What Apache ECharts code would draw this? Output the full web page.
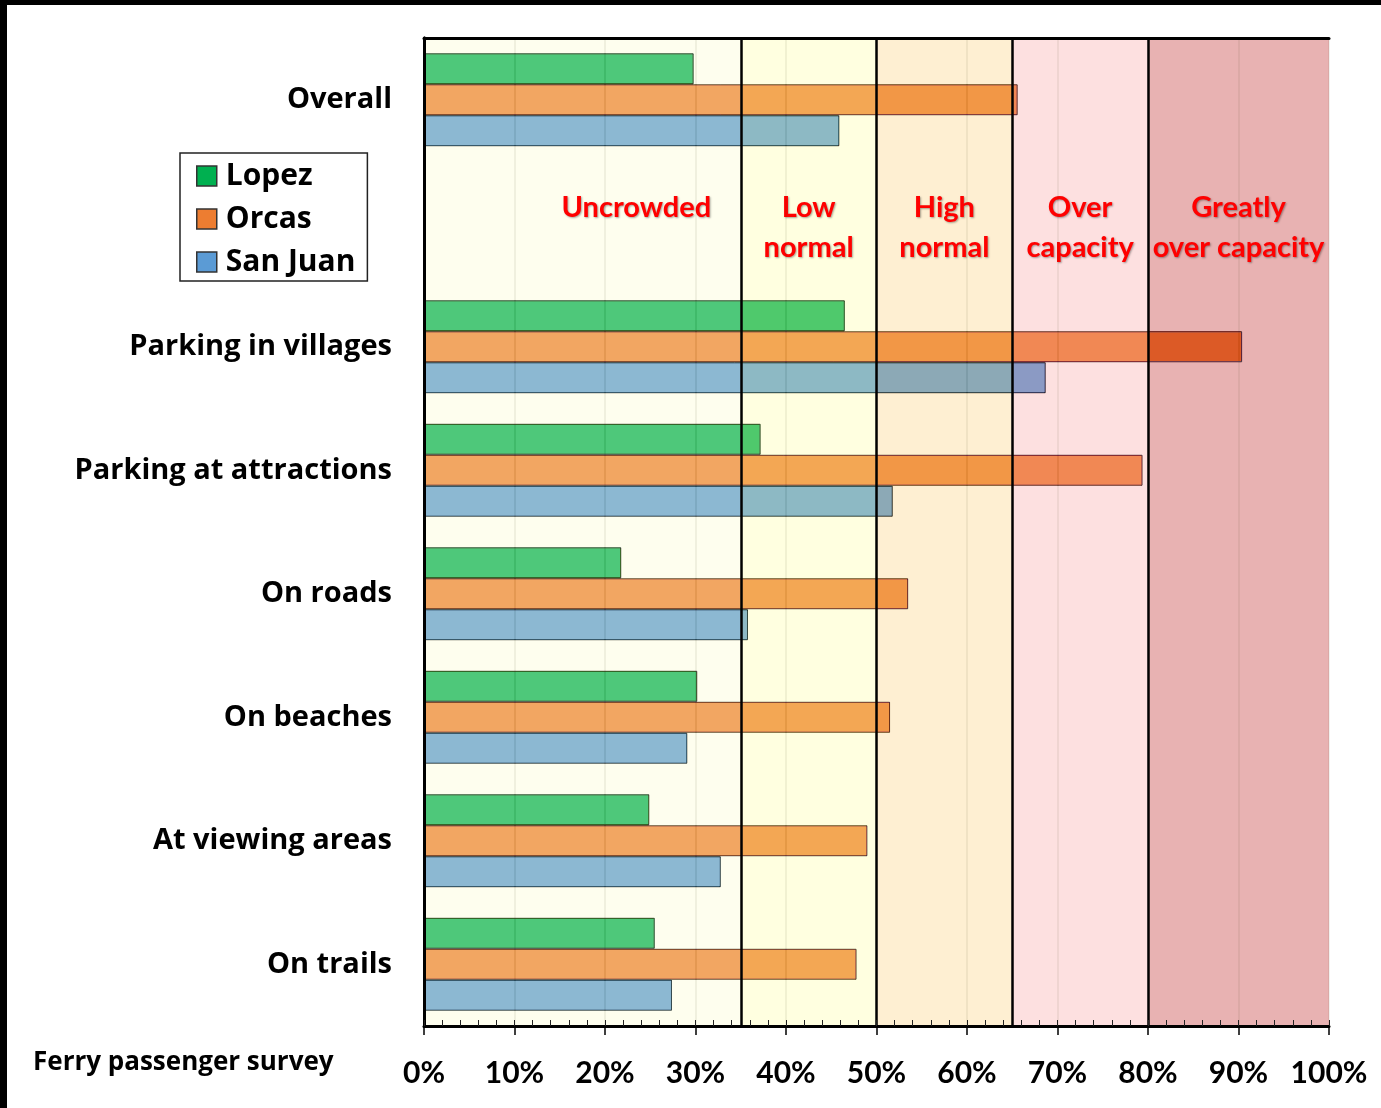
<!DOCTYPE html>
<html>
<head>
<meta charset="utf-8">
<script src="https://cdn.jsdelivr.net/npm/echarts@6/dist/echarts.min.js"></script>
<style>
  html, body { margin: 0; padding: 0; background: #000; width: 1381px; height: 1108px; overflow: hidden; }
  #chart { position: absolute; left: 7px; top: 5px; width: 1374px; height: 1103px; background: #fff; }
</style>
</head>
<body>
<div id="chart"></div>
<script>
// Survey categories, top to bottom (the blank row holds the band captions)
const categories = ['Overall', '', 'Parking in villages', 'Parking at attractions', 'On roads', 'On beaches', 'At viewing areas', 'On trails'];

// Share of respondents (%) per island
const lopez   = [29.8, '-', 46.5, 37.2, 21.8, 30.2, 24.9, 25.5];
const orcas   = [65.6, '-', 90.4, 79.4, 53.5, 51.5, 49.0, 47.8];
const sanJuan = [45.9, '-', 68.7, 51.8, 35.8, 29.1, 32.8, 27.4];

const seriesNames = ['Lopez', 'Orcas', 'San Juan'];
const swatchColors = ['#00b050', '#ed7d31', '#5b9bd5'];
// Bars are painted with a difference blend, so the band tint underneath shows through;
// these inks give the island colours on the pale band.
const blendInks = ['rgb(176,54,116)', 'rgb(12,88,140)', 'rgb(114,70,28)'];

// Crowding bands
const bandEdges = [0, 35, 50, 65, 80, 100];
const bandNames = ['Uncrowded', 'Low\nnormal', 'High\nnormal', 'Over\ncapacity', 'Greatly\nover capacity'];
const bandColors = ['#fefeee', '#ffffe0', '#feefd2', '#fde0e0', '#e8b2b2'];
const bandLabelShift = [54, 0, 0, 0, 0];

const FONT = '"Open Sans", Lato, sans-serif';
const NUM_FONT = 'Lato, "Open Sans", sans-serif';

const chart = echarts.init(document.getElementById('chart'), null, { renderer: 'canvas' });

const bandAreas = bandNames.map((name, i) => [
  {
    name: name,
    xAxis: bandEdges[i],
    itemStyle: { color: bandColors[i] },
    label: { offset: [bandLabelShift[i], 0] }
  },
  { xAxis: bandEdges[i + 1] }
]);

const seriesData = [lopez, orcas, sanJuan];

const series = seriesData.map((values, i) => ({
  name: seriesNames[i],
  type: 'bar',
  data: values,
  barWidth: 31,
  barGap: '0%',
  blendMode: 'difference',
  itemStyle: { color: blendInks[i], borderColor: 'rgb(150,150,148)', borderWidth: 1 },
  emphasis: { disabled: true },
  silent: true
}));

series[0].markArea = {
  silent: true,
  z: 1,
  label: {
    show: true,
    position: 'insideTop',
    distance: 150,
    color: '#ff0000',
    fontFamily: NUM_FONT,
    fontWeight: 'bold',
    fontSize: 29,
    lineHeight: 40,
    align: 'center',
    textShadowColor: 'rgba(0,0,0,0.35)',
    textShadowBlur: 2,
    textShadowOffsetX: 1,
    textShadowOffsetY: 1
  },
  data: bandAreas
};

series[1].markLine = {
  silent: true,
  symbol: 'none',
  z: 6,
  label: { show: false },
  lineStyle: { color: '#000', width: 2.5, type: 'solid' },
  data: bandEdges.slice(1, -1).map(v => ({ xAxis: v }))
};

const option = {
  animation: false,
  backgroundColor: '#fff',
  title: {
    text: 'Ferry passenger survey',
    left: 26,
    top: 1045,
    padding: 0,
    textStyle: { fontFamily: FONT, fontWeight: 'bold', fontSize: 26, color: '#000' }
  },
  legend: {
    orient: 'vertical',
    left: 173,
    top: 148,
    padding: [7, 12, 3, 16],
    itemGap: 11,
    itemWidth: 20,
    itemHeight: 20,
    icon: 'rect',
    selectedMode: false,
    backgroundColor: '#fff',
    borderColor: '#222',
    borderWidth: 1.5,
    textStyle: { fontFamily: FONT, fontSize: 30, fontWeight: 'bold', color: '#000', lineHeight: 32, padding: [0, 0, 0, 4] },
    data: seriesNames.map((n, i) => ({
      name: n,
      itemStyle: { color: swatchColors[i], borderColor: '#333', borderWidth: 1.5 }
    }))
  },
  grid: { left: 417, top: 33, width: 905, height: 988, containLabel: false },
  xAxis: [
    {
      type: 'value', min: 0, max: 100, interval: 10, position: 'bottom', z: 10,
      axisLine: { show: true, lineStyle: { color: '#000', width: 3 } },
      axisTick: { show: true, inside: false, length: 9, lineStyle: { color: '#000', width: 1.5 } },
      axisLabel: { formatter: '{value}%', fontFamily: NUM_FONT, fontWeight: 'bold', fontSize: 30, color: '#000', margin: 32 },
      splitLine: { show: false }
    },
    {
      type: 'value', min: 0, max: 100, interval: 2, position: 'bottom', z: 10,
      axisLine: { show: false },
      axisTick: { show: true, inside: true, length: 6, lineStyle: { color: '#222', width: 1 } },
      axisLabel: { show: false },
      splitLine: { show: false }
    },
    {
      type: 'value', min: 0, max: 100, interval: 10, position: 'top', z: 1.5,
      axisLine: { show: true, lineStyle: { color: '#000', width: 3 } },
      axisTick: { show: false },
      axisLabel: { show: false },
      splitLine: { show: true, lineStyle: { color: 'rgba(60,40,0,0.09)', width: 1.5 } }
    }
  ],
  yAxis: [
    {
      type: 'category', data: categories, inverse: true, z: 10,
      axisLine: { show: true, lineStyle: { color: '#000', width: 3 } },
      axisTick: { show: false },
      axisLabel: { fontFamily: FONT, fontWeight: 'bold', fontSize: 29, color: '#000', margin: 32, padding: [4, 0, 0, 0] },
      splitLine: { show: false }
    },
    {
      type: 'category', data: categories, inverse: true, position: 'right', z: 10,
      axisLine: { show: true, lineStyle: { color: '#000', width: 3 } },
      axisTick: { show: false },
      axisLabel: { show: false },
      splitLine: { show: false }
    }
  ],
  series: series
};

chart.setOption(option);
</script>
</body>
</html>
